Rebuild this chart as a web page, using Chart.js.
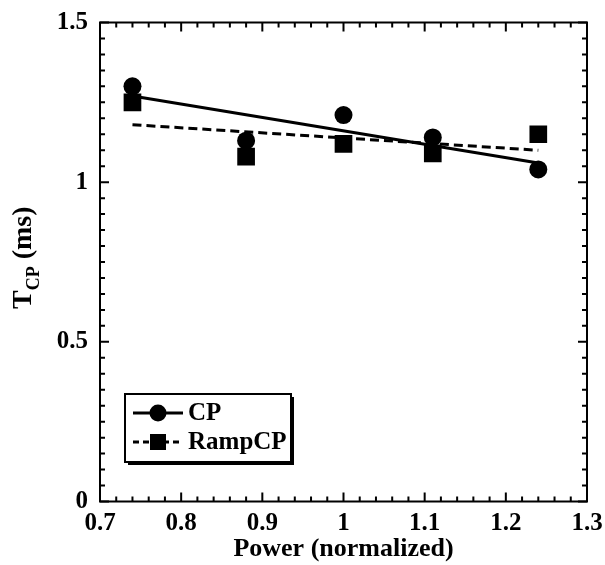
<!DOCTYPE html>
<html>
<head>
<meta charset="utf-8">
<script src="https://cdn.jsdelivr.net/npm/chart.js@4.4.1/dist/chart.umd.min.js"></script>
<style>
  html, body { margin: 0; padding: 0; background: #fff; }
  #chart { display: block; }
</style>
</head>
<body>
<canvas id="chart" width="605" height="565"></canvas>
<script>
// power (normalized) for each measurement
const powerX = [0.74, 0.88, 1.0, 1.11, 1.24];
// T_CP values in ms
const cpValues = [1.30, 1.13, 1.21, 1.14, 1.04];
const rampValues = [1.25, 1.08, 1.12, 1.09, 1.15];
// linear fits, ends only
const fitX = [0.74, 1.24];
const cpFit = [1.27, 1.06];
const rampFit = [1.18, 1.10];
// tick labels
const xTicks = [0.7, 0.8, 0.9, 1.0, 1.1, 1.2, 1.3];
const yTicks = [0, 0.5, 1, 1.5];

const serif = '"Liberation Serif", "Times New Roman", serif';

function pts(xs, ys) {
  return xs.map((x, i) => ({ x: x, y: ys[i] }));
}

//枠と内向きの目盛り
const framePlugin = {
  id: 'frame',
  afterDraw(chart) {
    const ctx = chart.ctx;
    const { left, right, top, bottom } = chart.chartArea;
    const x = chart.scales.x;
    const y = chart.scales.y;
    ctx.save();
    ctx.strokeStyle = '#000';
    ctx.lineWidth = 2;
    ctx.strokeRect(left, top, right - left, bottom - top);

    ctx.beginPath();
    for (let i = 0; i <= 30; i++) {
      const px = x.getPixelForValue(0.7 + i * 0.02);
      const len = i % 5 === 0 ? 9 : 5;
      ctx.moveTo(px, bottom); ctx.lineTo(px, bottom - len);
      ctx.moveTo(px, top); ctx.lineTo(px, top + len);
    }
    for (let i = 0; i <= 30; i++) {
      const py = y.getPixelForValue(i * 0.05);
      const len = i % 10 === 0 ? 9 : 5;
      ctx.moveTo(left, py); ctx.lineTo(left + len, py);
      ctx.moveTo(right, py); ctx.lineTo(right - len, py);
    }
    ctx.stroke();

    // y title with subscript
    ctx.fillStyle = '#000';
    ctx.translate(31, 309);
    ctx.rotate(-Math.PI / 2);
    ctx.textBaseline = 'alphabetic';
    ctx.textAlign = 'left';
    ctx.font = 'bold 28px ' + serif;
    ctx.fillText('T', 0, 0);
    let w = ctx.measureText('T').width;
    ctx.font = 'bold 18px ' + serif;
    ctx.fillText('CP', w, 8);
    w += ctx.measureText('CP').width;
    ctx.font = 'bold 28px ' + serif;
    ctx.fillText(' (ms)', w, 0);
    ctx.restore();

    // legend
    const bx = 125, by = 394, bw = 166, bh = 68;
    ctx.save();
    ctx.fillStyle = '#000';
    ctx.fillRect(bx + 3, by + bh, bw, 3);
    ctx.fillRect(bx + bw, by + 3, 3, bh);
    ctx.fillStyle = '#fff';
    ctx.fillRect(bx, by, bw, bh);
    ctx.strokeStyle = '#000';
    ctx.lineWidth = 2;
    ctx.strokeRect(bx, by, bw, bh);
    ctx.fillStyle = '#000';

    const rows = [
      { label: 'CP', y: 413, dash: [], style: 'circle' },
      { label: 'RampCP', y: 442, dash: [6, 4], style: 'rect' }
    ];
    rows.forEach(r => {
      ctx.beginPath();
      ctx.setLineDash(r.dash);
      ctx.lineWidth = 3;
      ctx.moveTo(133, r.y); ctx.lineTo(183, r.y);
      ctx.stroke();
      ctx.setLineDash([]);
      ctx.beginPath();
      if (r.style === 'circle') {
        ctx.arc(158, r.y, 8.5, 0, Math.PI * 2);
      } else {
        ctx.rect(150, r.y - 8, 16, 16);
      }
      ctx.fill();
      ctx.font = 'bold 25px ' + serif;
      ctx.textBaseline = 'middle';
      ctx.textAlign = 'left';
      ctx.fillText(r.label, 188, r.y + 1);
    });
    ctx.restore();
  }
};

const tickFont = { family: serif, size: 25, weight: 'bold' };

const config = {
  type: 'scatter',
  data: {
    datasets: [
      {
        label: 'CP',
        data: pts(powerX, cpValues),
        pointStyle: 'circle',
        pointRadius: 9,
        backgroundColor: '#000',
        borderWidth: 0
      },
      {
        label: 'RampCP',
        data: pts(powerX, rampValues),
        pointStyle: 'rect',
        pointRadius: 12.5,
        backgroundColor: '#000',
        borderWidth: 0
      },
      {
        label: 'CP fit',
        data: pts(fitX, cpFit),
        showLine: true,
        borderColor: '#000',
        borderWidth: 3,
        pointRadius: 0
      },
      {
        label: 'RampCP fit',
        data: pts(fitX, rampFit),
        showLine: true,
        borderColor: '#000',
        borderWidth: 3,
        borderDash: [9, 5],
        pointRadius: 0
      }
    ]
  },
  options: {
    responsive: false,
    animation: false,
    layout: { padding: { top: 22.5, right: 18, left: 0, bottom: 0 } },
    plugins: { legend: { display: false }, tooltip: { enabled: false } },
    scales: {
      x: {
        type: 'linear',
        min: 0.7,
        max: 1.3,
        afterBuildTicks: s => { s.ticks = xTicks.map(v => ({ value: v })); },
        afterFit: s => { s.height = 63.5; s.paddingLeft = 0; s.paddingRight = 0; },
        grid: { display: false, drawTicks: false },
        border: { display: false },
        ticks: {
          color: '#000',
          font: tickFont,
          padding: 7,
          maxRotation: 0,
          callback: v => String(Math.round(v * 10) / 10)
        },
        title: {
          display: true,
          text: 'Power (normalized)',
          color: '#000',
          font: { family: serif, size: 26, weight: 'bold' },
          padding: { top: 0, bottom: 0 }
        }
      },
      y: {
        type: 'linear',
        min: 0,
        max: 1.5,
        afterBuildTicks: s => { s.ticks = yTicks.map(v => ({ value: v })); },
        afterFit: s => { s.width = 100; s.paddingTop = 0; s.paddingBottom = 0; },
        grid: { display: false, drawTicks: false },
        border: { display: false },
        ticks: {
          color: '#000',
          font: tickFont,
          padding: 12,
          callback: v => String(v)
        }
      }
    }
  },
  plugins: [framePlugin]
};

const chart = new Chart(document.getElementById('chart'), config);
</script>
</body>
</html>
